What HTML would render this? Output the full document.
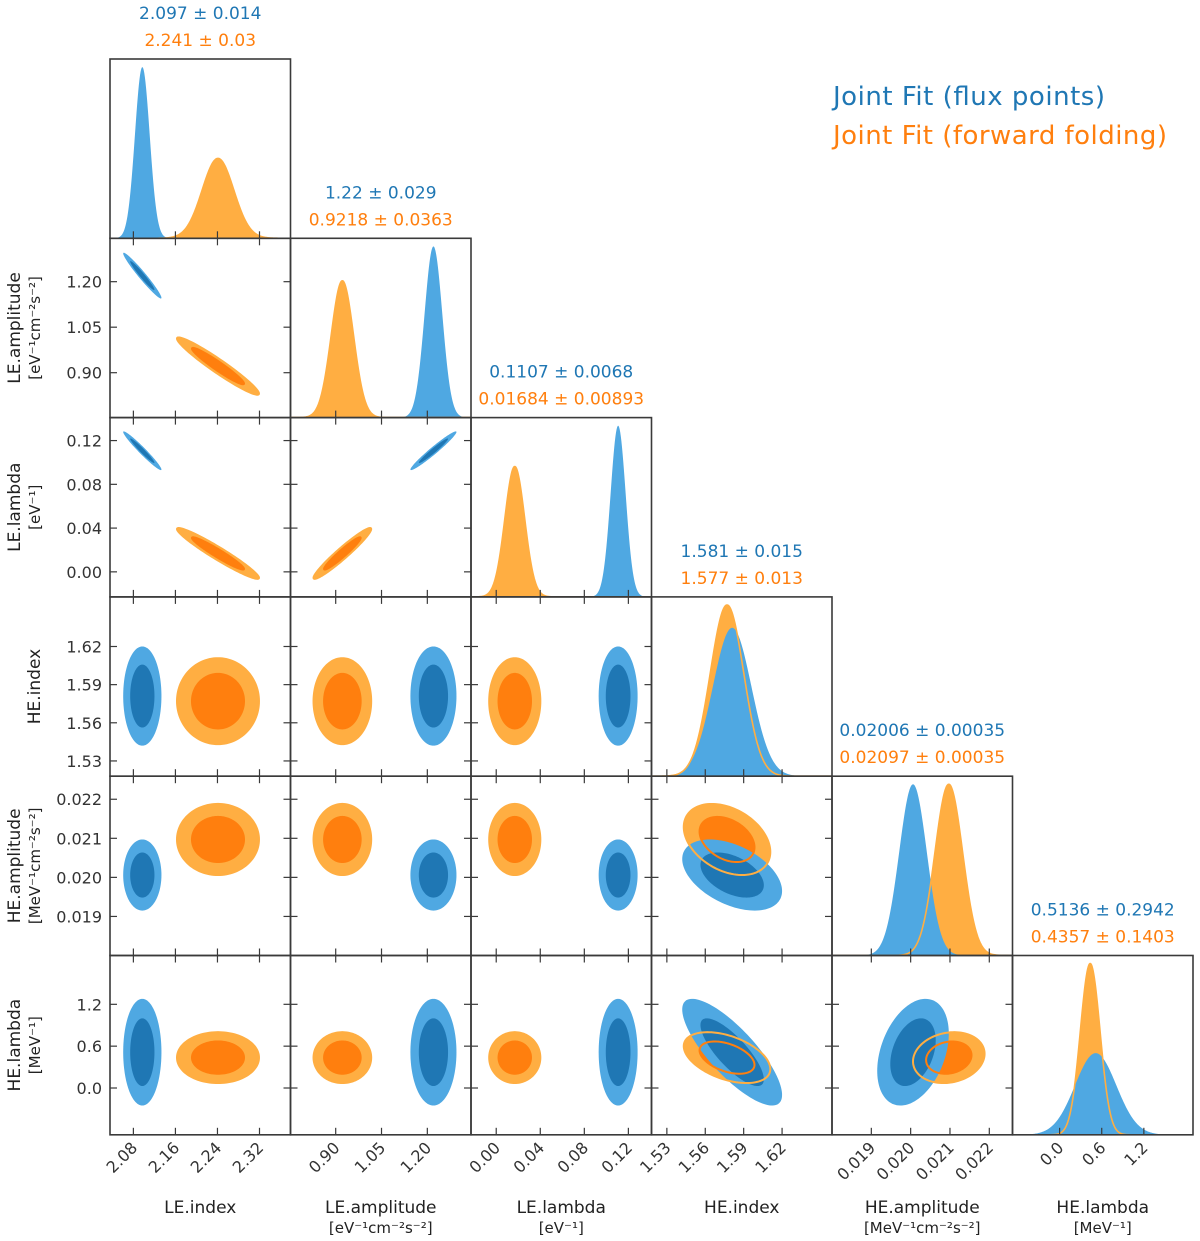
<!DOCTYPE html>
<html><head><meta charset="utf-8"><title>Corner plot</title>
<style>
html,body{margin:0;padding:0;background:#fff;}
svg{display:block;font-family:"DejaVu Sans","Liberation Sans",sans-serif;}
</style></head>
<body>
<svg id="chart" width="1200" height="1241" viewBox="0 0 1200 1241" xmlns="http://www.w3.org/2000/svg">
  <g id="panels"></g>
  <g id="labels"></g>
  <g>
    <text x="833" y="105" font-size="26" fill="#1f77b4" textLength="272">Joint Fit (flux points)</text>
    <text x="833" y="144" font-size="26" fill="#ff7f0e" textLength="334">Joint Fit (forward folding)</text>
  </g>
</svg>
<script>
const paramNames = ["LE.index","LE.amplitude","LE.lambda","HE.index","HE.amplitude","HE.lambda"];
const paramUnits = ["","[eV\u207B\u00B9cm\u207B\u00B2s\u207B\u00B2]","[eV\u207B\u00B9]","","[MeV\u207B\u00B9cm\u207B\u00B2s\u207B\u00B2]","[MeV\u207B\u00B9]"];
const blueMean = [2.097, 1.22, 0.1107, 1.581, 0.02006, 0.5136];
const blueSigma = [0.014, 0.029, 0.0068, 0.015, 0.00035, 0.2942];
const orangeMean = [2.241, 0.9218, 0.01684, 1.577, 0.02097, 0.4357];
const orangeSigma = [0.03, 0.0363, 0.00893, 0.013, 0.00035, 0.1403];
const blueTitle = ["2.097 \u00B1 0.014","1.22 \u00B1 0.029","0.1107 \u00B1 0.0068","1.581 \u00B1 0.015","0.02006 \u00B1 0.00035","0.5136 \u00B1 0.2942"];
const orangeTitle = ["2.241 \u00B1 0.03","0.9218 \u00B1 0.0363","0.01684 \u00B1 0.00893","1.577 \u00B1 0.013","0.02097 \u00B1 0.00035","0.4357 \u00B1 0.1403"];
const corrPairs = ["0-1","0-2","1-2","3-4","3-5","4-5"];
const blueCorr = [-0.97, -0.97, 0.97, -0.45, -0.8, 0.35];
const orangeCorr = [-0.96, -0.96, 0.96, -0.35, -0.45, 0.15];
const axisMin = [2.0355, 0.752, -0.0229, 1.518, 0.0180, -0.671];
const axisMax = [2.379, 1.343, 0.141, 1.659, 0.02259, 1.90];
const tickValues = [[2.08,2.16,2.24,2.32],[0.90,1.05,1.20],[0.00,0.04,0.08,0.12],[1.53,1.56,1.59,1.62],[0.019,0.020,0.021,0.022],[0.0,0.6,1.2]];
const tickLabels = [["2.08","2.16","2.24","2.32"],["0.90","1.05","1.20"],["0.00","0.04","0.08","0.12"],["1.53","1.56","1.59","1.62"],["0.019","0.020","0.021","0.022"],["0.0","0.6","1.2"]];

const NS = "http://www.w3.org/2000/svg";
const X0 = 110, PW = 180.5, Y0 = 59, PH = 179.3, N = 6;
const C = {lb:"#4fa8e2", db:"#1f77b4", lo:"#ffae42", do_:"#ff7f0e", frame:"#3a3a3a", text:"#333"};
const panelsG = document.getElementById("panels");
const labelsG = document.getElementById("labels");

function mk(tag, attrs, parent){ const e=document.createElementNS(NS,tag); for(const k in attrs) e.setAttribute(k,attrs[k]); parent.appendChild(e); return e; }
function sx(i, col, v){ return X0 + col*PW + (v-axisMin[i])/(axisMax[i]-axisMin[i])*PW; }
function sy(i, row, v){ return Y0 + (row+1)*PH - (v-axisMin[i])/(axisMax[i]-axisMin[i])*PH; }
function corr(arr, i, j){ const k = corrPairs.indexOf(i+"-"+j); return k<0?0:arr[k]; }

function ellipsePath(i, j, row, col, mean, sig, r, k){
  let d="";
  const s = Math.sqrt(1-r*r);
  for(let t=0;t<=120;t++){
    const a=t/120*2*Math.PI, u=Math.cos(a), v=Math.sin(a);
    const xv = mean[i] + k*sig[i]*u;
    const yv = mean[j] + k*sig[j]*(r*u + s*v);
    d += (t?"L":"M") + sx(i,col,xv).toFixed(2) + "," + sy(j,row,yv).toFixed(2);
  }
  return d+"Z";
}
function gaussPath(i, col, row, mean, sig, peak, closed){
  let d="";
  const bot = Y0+(row+1)*PH;
  for(let t=0;t<=300;t++){
    const v = axisMin[i] + (axisMax[i]-axisMin[i])*t/300;
    const z=(v-mean[i])/sig[i];
    const h = peak*Math.exp(-0.5*z*z);
    d += (t?"L":"M") + sx(i,col,v).toFixed(2)+","+(bot-h).toFixed(2);
  }
  if(closed) d += "L"+sx(i,col,axisMax[i]).toFixed(2)+","+bot+"L"+sx(i,col,axisMin[i]).toFixed(2)+","+bot+"Z";
  return d;
}

const K_OUT = 2.6, K_IN = 1.65;
for(let row=0; row<N; row++){
  for(let col=0; col<=row; col++){
    const g = mk("g",{},panelsG);
    
    
    const px=X0+col*PW, py=Y0+row*PH;
    const cid="clip"+row+"-"+col;
    const cp=mk("clipPath",{id:cid},g); mk("rect",{x:px,y:py,width:PW,height:PH},cp);
    const inner=mk("g",{"clip-path":"url(#"+cid+")"},g);
    if(row===col){
      const i=col;
      const invB=1/blueSigma[i], invO=1/orangeSigma[i];
      const top=0.955*PH, mx=Math.max(invB,invO);
      const pB=top*invB/mx, pO=top*invO/mx;
      const o=mk("path",{d:gaussPath(i,col,row,orangeMean,orangeSigma,pO,true),fill:C.lo},inner);
      
      
      const b=mk("path",{d:gaussPath(i,col,row,blueMean,blueSigma,pB,true),fill:C.lb},inner);
      
      
      const ol=mk("path",{d:gaussPath(i,col,row,orangeMean,orangeSigma,pO,false),fill:"none",stroke:C.lo,"stroke-width":1.6},inner);
      
      
      const cx=px+PW/2;
      const tb=mk("text",{x:cx,y:py-40,"text-anchor":"middle","font-size":17,fill:C.db},labelsG); tb.textContent=blueTitle[i];
      
      
      const to=mk("text",{x:cx,y:py-13,"text-anchor":"middle","font-size":17,fill:C.do_},labelsG); to.textContent=orangeTitle[i];
      
      
    } else {
      const i=col, j=row;
      const rb=corr(blueCorr,i,j), ro=corr(orangeCorr,i,j);
      const a=mk("path",{d:ellipsePath(i,j,row,col,orangeMean,orangeSigma,ro,K_OUT),fill:C.lo},inner);
      
      
      const a2=mk("path",{d:ellipsePath(i,j,row,col,orangeMean,orangeSigma,ro,K_IN),fill:C.do_},inner);
      
      
      const b1=mk("path",{d:ellipsePath(i,j,row,col,blueMean,blueSigma,rb,K_OUT),fill:C.lb},inner);
      
      
      const b2=mk("path",{d:ellipsePath(i,j,row,col,blueMean,blueSigma,rb,K_IN),fill:C.db},inner);
      
      
      const l1=mk("path",{d:ellipsePath(i,j,row,col,orangeMean,orangeSigma,ro,K_OUT),fill:"none",stroke:C.lo,"stroke-width":2},inner);
      
      
      const l2=mk("path",{d:ellipsePath(i,j,row,col,orangeMean,orangeSigma,ro,K_IN),fill:"none",stroke:C.do_,"stroke-width":2},inner);
      
      
      tickValues[j].forEach(v=>{
        const y=sy(j,row,v);
        mk("line",{x1:px,y1:y,x2:px+7,y2:y,stroke:C.frame,"stroke-width":1.2},g);
        mk("line",{x1:px+PW,y1:y,x2:px+PW-7,y2:y,stroke:C.frame,"stroke-width":1.2},g);
      });
      tickValues[i].forEach(v=>{
        const x=sx(i,col,v);
        mk("line",{x1:x,y1:py,x2:x,y2:py+7,stroke:C.frame,"stroke-width":1.2},g);
      });
    }
    tickValues[col].forEach(v=>{
      const x=sx(col,col,v);
      mk("line",{x1:x,y1:py+PH,x2:x,y2:py+PH-7,stroke:C.frame,"stroke-width":1.2},g);
    });
    const fr=mk("rect",{x:px,y:py,width:PW,height:PH,fill:"none",stroke:C.frame,"stroke-width":1.6},g);
    
    
  }
}

const bottom = Y0+N*PH;
for(let col=0; col<N; col++){
  tickValues[col].forEach((v,k)=>{
    const x=sx(col,col,v);
    const t=mk("text",{x:x+5,y:bottom+14,"text-anchor":"end","font-size":16,fill:C.text,transform:"rotate(-45 "+(x+5)+" "+(bottom+14)+")"},labelsG);
    t.textContent=tickLabels[col][k];
    
    
  });
  const cx=X0+col*PW+PW/2;
  const n=mk("text",{x:cx,y:1213,"text-anchor":"middle","font-size":17,fill:"#222"},labelsG); n.textContent=paramNames[col];
  
  
  if(paramUnits[col]){
    const u=mk("text",{x:cx,y:1233,"text-anchor":"middle","font-size":15,fill:"#222"},labelsG); u.textContent=paramUnits[col];
    
    
  }
}
for(let row=1; row<N; row++){
  tickValues[row].forEach((v,k)=>{
    const y=sy(row,row,v);
    const t=mk("text",{x:102,y:y+6,"text-anchor":"end","font-size":16,fill:C.text},labelsG);
    t.textContent=tickLabels[row][k];
    
    
  });
  const cy=Y0+row*PH+PH/2;
  const hasU=!!paramUnits[row];
  const nx=hasU?20:40;
  const n=mk("text",{x:nx,y:cy,"text-anchor":"middle","font-size":17,fill:"#222",transform:"rotate(-90 "+nx+" "+cy+")"},labelsG); n.textContent=paramNames[row];
  
  
  if(hasU){
    const u=mk("text",{x:40,y:cy,"text-anchor":"middle","font-size":15,fill:"#222",transform:"rotate(-90 40 "+cy+")"},labelsG); u.textContent=paramUnits[row];
    
    
  }
}
</script>
</body></html>
